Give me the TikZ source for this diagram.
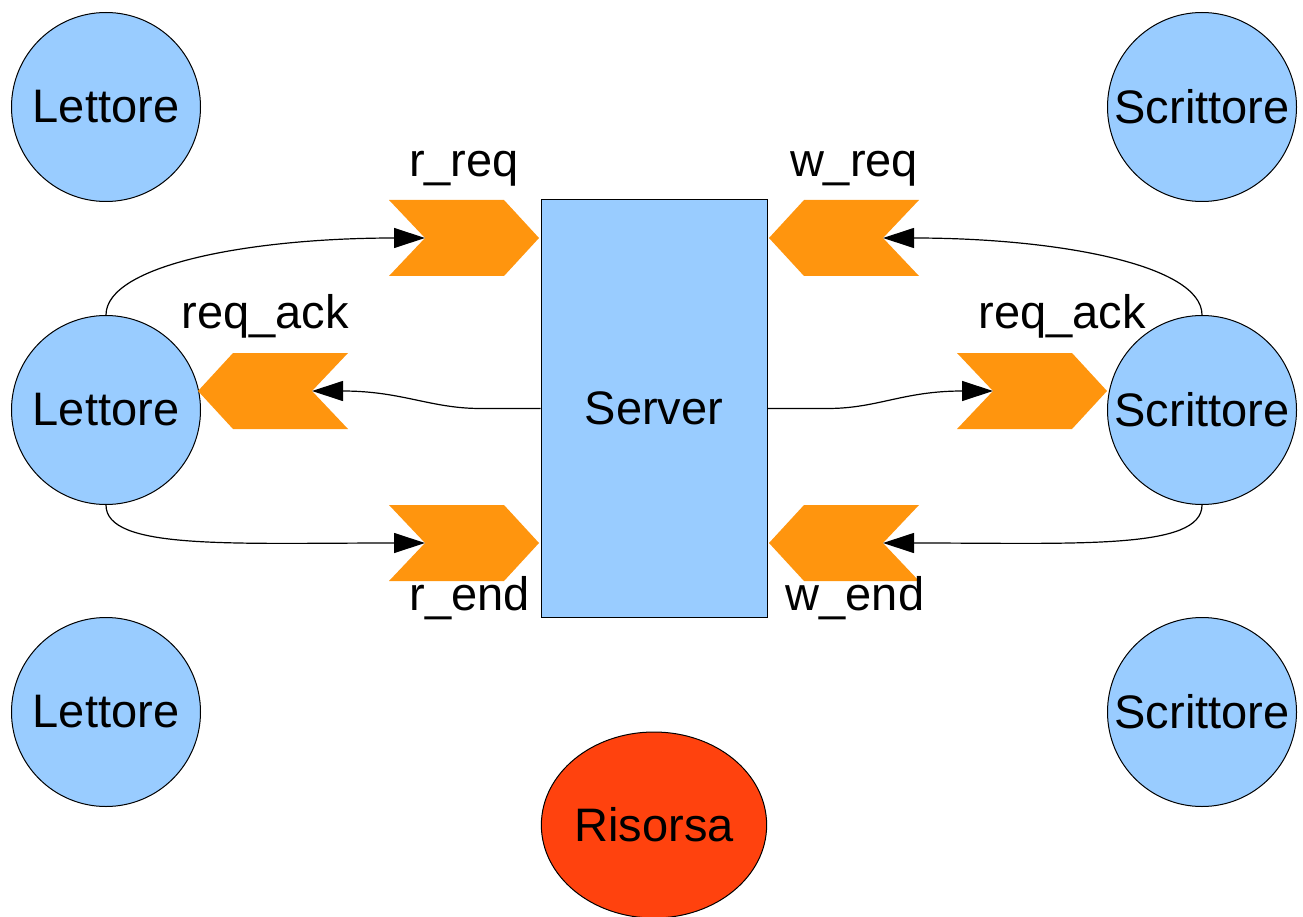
\documentclass[tikz,border=0pt]{standalone}
\usepackage{fontspec}
\setmainfont{Liberation Sans}
\usetikzlibrary{arrows.meta,shapes.geometric}
\definecolor{sky}{HTML}{99CCFF}
\definecolor{chev}{HTML}{FF950E}
\definecolor{res}{HTML}{FF420E}
\begin{document}
\begin{tikzpicture}[x=1pt,y=-1pt,
  bigfont/.style={font=\fontsize{47pt}{56pt}\selectfont},
  proc/.style={circle,draw=black,line width=1pt,fill=sky,minimum size=189pt,inner sep=0pt,bigfont},
  lbl/.style={anchor=base,inner sep=0pt,bigfont},
  chevfill/.style={fill=chev},
  conn/.style={draw=black,line width=1.2pt,-{Triangle[length=31pt,width=20pt]}}]
\useasboundingbox (0,0) rectangle (1303,917);
% processes
\node[proc] (L1) at (106,107) {Lettore};
\node[proc] (L2) at (106,410) {Lettore};
\node[proc] (L3) at (106,712) {Lettore};
\node[proc] (W1) at (1202,107) {Scrittore};
\node[proc] (W2) at (1202,410) {Scrittore};
\node[proc] (W3) at (1202,712) {Scrittore};
% server
\node[draw=black,line width=1pt,fill=sky,minimum width=226pt,minimum height=417pt,inner sep=0pt,bigfont] (S) at (654,408.5) {Server};
% resource
\node[ellipse,draw=black,line width=1pt,fill=res,minimum width=224pt,minimum height=186pt,inner sep=0pt,bigfont] (R) at (654,825) {Risorsa};
% chevrons (right-pointing)
\fill[chevfill] (389,200) -- (504,200) -- (539,238) -- (504,276) -- (389,276) -- (425,238) -- cycle;
\coordinate (rreqN) at (425,238);
\fill[chevfill] (389,505) -- (504,505) -- (539,543) -- (504,581) -- (389,581) -- (425,543) -- cycle;
\coordinate (rendN) at (425,543);
\fill[chevfill] (957,353) -- (1072,353) -- (1107,391) -- (1072,429) -- (957,429) -- (993,391) -- cycle;
\coordinate (ackRN) at (993,391);
% chevrons (left-pointing)
\fill[chevfill] (919,200) -- (804,200) -- (769,238) -- (804,276) -- (919,276) -- (883,238) -- cycle;
\coordinate (wreqN) at (883,238);
\fill[chevfill] (919,505) -- (804,505) -- (769,543) -- (804,581) -- (919,581) -- (883,543) -- cycle;
\coordinate (wendN) at (883,543);
\fill[chevfill] (348,353) -- (233,353) -- (198,391) -- (233,429) -- (348,429) -- (312,391) -- cycle;
\coordinate (ackLN) at (312,391);
% labels
\node[lbl] (lrreq) at (464,177) {r\_req};
\node[lbl] (lwreq) at (854,177) {w\_req};
\node[lbl] (lackL) at (265,328) {req\_ack};
\node[lbl] (lackR) at (1062,328) {req\_ack};
\node[lbl] (lrend) at (470,610) {r\_end};
\node[lbl] (lwend) at (855,610) {w\_end};
% connectors
\draw[conn] (L2.north) .. controls +(0,-50) and +(-175,0) .. (rreqN);
\draw[conn] (L2.south) .. controls +(0,45) and +(-195,0) .. (rendN);
\draw[conn] (W2.north) .. controls +(0,-50) and +(175,0) .. (wreqN);
\draw[conn] (W2.south) .. controls +(0,45) and +(195,0) .. (wendN);
\draw[conn] (S.west) -- ++(-60,0) .. controls +(-50,0) and +(90,0) .. (ackLN);
\draw[conn] (S.east) -- ++(60,0) .. controls +(50,0) and +(-90,0) .. (ackRN);
\end{tikzpicture}
\end{document}
